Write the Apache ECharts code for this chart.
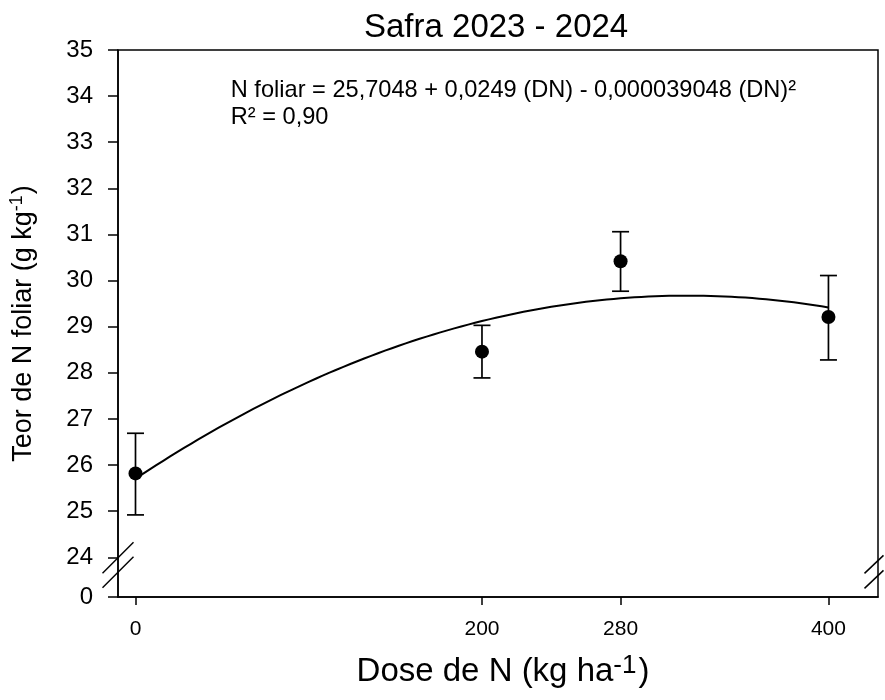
<!DOCTYPE html>
<html>
<head>
<meta charset="utf-8">
<script src="https://cdn.jsdelivr.net/npm/echarts@6/dist/echarts.min.js"></script>
<style>
  html, body { margin: 0; padding: 0; background: #fff; }
  #chart { width: 885px; height: 700px; }
</style>
</head>
<body>
<div id="chart"></div>
<script>
// Leaf N content by N dose, 2023-2024 season
const titleText = 'Safra 2023 - 2024';
const doses = [0, 200, 280, 400];
const nFoliar = [25.82, 28.46, 30.42, 29.21];
const errUpper = [26.69, 29.03, 31.06, 30.11];
const errLower = [24.92, 27.89, 29.77, 28.28];
// quadratic fit: a + b*DN + c*DN^2
const fitCoef = [25.7048, 0.0249, -0.000039048];
const fitRange = [0, 400];
const xTicks = [0, 200, 280, 400];
const yTicks = [24, 25, 26, 27, 28, 29, 30, 31, 32, 33, 34, 35];
const yBreakLabel = '0';
const equationLines = [
  'N foliar = 25,7048 + 0,0249 (DN) - 0,000039048 (DN)\u00B2',
  'R\u00B2 = 0,90'
];

const FONT = '"Liberation Sans", Arial, sans-serif';
const X_MIN = -10.1, X_MAX = 428.6;
const Y_MIN = 23.14, Y_MAX = 35;

// fitted curve sampled along the dose range
const fitCurve = [];
for (let d = fitRange[0]; d <= fitRange[1]; d += 4) {
  fitCurve.push([d, fitCoef[0] + fitCoef[1] * d + fitCoef[2] * d * d]);
}

const errData = doses.map((d, i) => [d, errLower[i], errUpper[i]]);
const pointData = doses.map((d, i) => [d, nFoliar[i]]);

const chart = echarts.init(document.getElementById('chart'), null, { renderer: 'canvas' });

const option = {
  animation: false,
  backgroundColor: '#fff',
  title: {
    text: titleText,
    left: 359,
    top: 6,
    textStyle: { fontFamily: FONT, fontSize: 33, fontWeight: 'normal', color: '#000' }
  },
  grid: {
    left: 118, right: 7, top: 50, bottom: 103,
    outerBoundsMode: 'none',
    containLabel: false,
    show: true, borderColor: '#000', borderWidth: 1.5, backgroundColor: 'transparent'
  },
  xAxis: {
    type: 'value',
    min: X_MIN, max: X_MAX,
    splitLine: { show: false },
    axisLine: { show: true, onZero: false, lineStyle: { color: '#000', width: 1.5 } },
    axisTick: { show: true, customValues: xTicks, length: 8, lineStyle: { color: '#000', width: 1.5 } },
    axisLabel: {
      customValues: xTicks, margin: 22,
      fontFamily: FONT, fontSize: 21, color: '#000'
    },
    name: 'Dose de N (kg ha{sup|-1})',
    nameLocation: 'middle',
    nameGap: 56,
    nameTextStyle: {
      fontFamily: FONT, fontSize: 33, color: '#000', lineHeight: 38,
      padding: [0, 0, 0, 10],
      rich: { sup: { fontFamily: FONT, fontSize: 26, color: '#000', verticalAlign: 'top', lineHeight: 38, padding: [0, 2, 18, 0] } }
    }
  },
  yAxis: {
    type: 'value',
    min: Y_MIN, max: Y_MAX,
    splitLine: { show: false },
    axisLine: { show: true, onZero: false, lineStyle: { color: '#000', width: 1.5 } },
    axisTick: { show: true, customValues: [Y_MIN].concat(yTicks), length: 10, lineStyle: { color: '#000', width: 1.5 } },
    axisLabel: {
      customValues: [Y_MIN].concat(yTicks), margin: 25,
      fontFamily: FONT, fontSize: 24, color: '#000',
      formatter: v => (v < yTicks[0] ? yBreakLabel : String(Math.round(v)))
    },
    name: 'Teor de N foliar (g kg{sup|-1})',
    nameLocation: 'middle',
    nameRotate: 90,
    nameGap: 78,
    nameTextStyle: {
      fontFamily: FONT, fontSize: 27, color: '#000', lineHeight: 32,
      rich: { sup: { fontFamily: FONT, fontSize: 18, color: '#000', verticalAlign: 'top', lineHeight: 32, padding: [0, 1, 12, 0] } }
    }
  },
  series: [
    {
      type: 'line',
      data: fitCurve,
      showSymbol: false,
      smooth: false,
      lineStyle: { color: '#000', width: 2 },
      z: 2
    },
    {
      type: 'custom',
      data: errData,
      renderItem: function (params, api) {
        const x = api.value(0);
        const lo = api.coord([x, api.value(1)]);
        const hi = api.coord([x, api.value(2)]);
        const cap = 8.5;
        const style = { stroke: '#000', lineWidth: 1.7 };
        return {
          type: 'group',
          children: [
            { type: 'line', shape: { x1: lo[0], y1: lo[1], x2: hi[0], y2: hi[1] }, style },
            { type: 'line', shape: { x1: hi[0] - cap, y1: hi[1], x2: hi[0] + cap, y2: hi[1] }, style },
            { type: 'line', shape: { x1: lo[0] - cap, y1: lo[1], x2: lo[0] + cap, y2: lo[1] }, style }
          ]
        };
      },
      z: 3
    },
    {
      type: 'scatter',
      data: pointData,
      symbol: 'circle',
      symbolSize: 14,
      itemStyle: { color: '#000', opacity: 1 },
      z: 4
    }
  ]
};

chart.setOption(option);

// equation text and axis-break marks
const p24 = chart.convertToPixel({ gridIndex: 0 }, [X_MIN, yTicks[0]]);
const pR = chart.convertToPixel({ gridIndex: 0 }, [X_MAX, yTicks[0]]);
const pEq = chart.convertToPixel({ gridIndex: 0 }, [55, 34.13]);

function slash(cx, cy, hx, hy) {
  return {
    type: 'line',
    shape: { x1: cx - hx, y1: cy + hy, x2: cx + hx, y2: cy - hy },
    style: { stroke: '#000', lineWidth: 1.5 },
    z: 10
  };
}

chart.setOption({
  graphic: [
    {
      type: 'text',
      x: pEq[0], y: pEq[1],
      style: {
        text: equationLines[0],
        font: '23.6px ' + FONT,
        fill: '#000',
        textVerticalAlign: 'middle'
      }
    },
    {
      type: 'text',
      x: pEq[0], y: pEq[1] + 27,
      style: {
        text: equationLines[1],
        font: '23.6px ' + FONT,
        fill: '#000',
        textVerticalAlign: 'middle'
      }
    },
    slash(p24[0], p24[1] + 0.5, 15.5, 15.5),
    slash(p24[0], p24[1] + 15, 15.5, 15.5),
    slash(pR[0] - 4, pR[1] + 7, 9.5, 9),
    slash(pR[0] - 4, pR[1] + 22, 9.5, 9)
  ]
});
</script>
</body>
</html>
